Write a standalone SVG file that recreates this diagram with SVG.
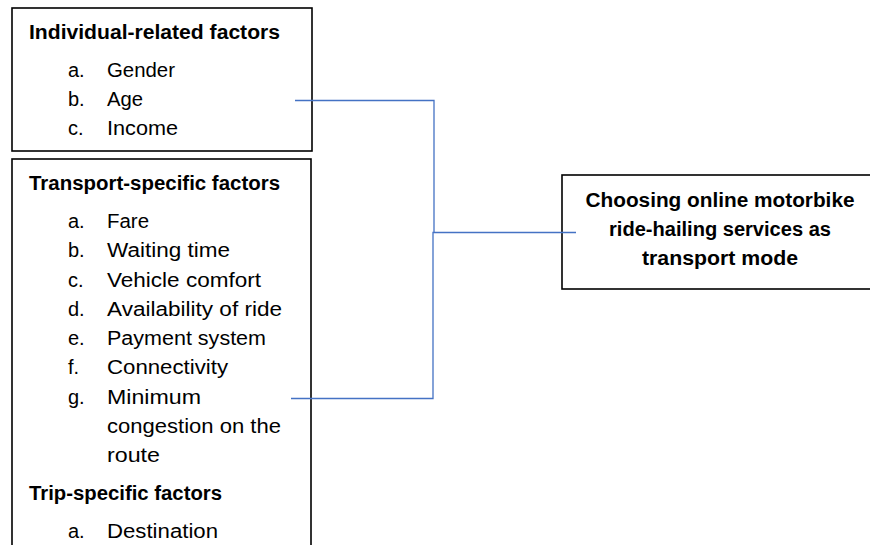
<svg xmlns="http://www.w3.org/2000/svg" width="870" height="545" viewBox="0 0 870 545">
<style>
.box{fill:#fff;stroke:#000;stroke-width:1.6}
.t{font-family:"Liberation Sans",Arial,sans-serif;font-size:20px;fill:#000}
.b{font-weight:bold}
.c{stroke:#4472C4;stroke-width:1.3;fill:none}
</style>
<rect width="870" height="545" fill="#fff"/>
<g id="individual">
<rect class="box" x="12" y="8" width="300" height="143"/>
<text class="t b" x="29" y="39" textLength="251" lengthAdjust="spacingAndGlyphs">Individual-related factors</text>
<text class="t" x="68" y="77">a.</text><text class="t" x="107" y="77" textLength="68" lengthAdjust="spacingAndGlyphs">Gender</text>
<text class="t" x="68" y="106">b.</text><text class="t" x="107" y="106" textLength="36" lengthAdjust="spacingAndGlyphs">Age</text>
<text class="t" x="68" y="135">c.</text><text class="t" x="107" y="135" textLength="71" lengthAdjust="spacingAndGlyphs">Income</text>
</g>
<g id="transport">
<rect class="box" x="12" y="159" width="299" height="400"/>
<text class="t b" x="29" y="190" textLength="251" lengthAdjust="spacingAndGlyphs">Transport-specific factors</text>
<text class="t" x="68" y="228">a.</text><text class="t" x="107" y="228" textLength="42" lengthAdjust="spacingAndGlyphs">Fare</text>
<text class="t" x="68" y="257">b.</text><text class="t" x="107" y="257" textLength="123" lengthAdjust="spacingAndGlyphs">Waiting time</text>
<text class="t" x="68" y="287">c.</text><text class="t" x="107" y="287" textLength="154" lengthAdjust="spacingAndGlyphs">Vehicle comfort</text>
<text class="t" x="68" y="316">d.</text><text class="t" x="107" y="316" textLength="175" lengthAdjust="spacingAndGlyphs">Availability of ride</text>
<text class="t" x="68" y="345">e.</text><text class="t" x="107" y="345" textLength="159" lengthAdjust="spacingAndGlyphs">Payment system</text>
<text class="t" x="68" y="374">f.</text><text class="t" x="107" y="374" textLength="121" lengthAdjust="spacingAndGlyphs">Connectivity</text>
<text class="t" x="68" y="404">g.</text><text class="t" x="107" y="404" textLength="94" lengthAdjust="spacingAndGlyphs">Minimum</text>
<text class="t" x="107" y="433" textLength="174" lengthAdjust="spacingAndGlyphs">congestion on the</text>
<text class="t" x="107" y="462" textLength="53" lengthAdjust="spacingAndGlyphs">route</text>
<text class="t b" x="29" y="500" textLength="193" lengthAdjust="spacingAndGlyphs">Trip-specific factors</text>
<text class="t" x="68" y="538">a.</text><text class="t" x="107" y="538" textLength="111" lengthAdjust="spacingAndGlyphs">Destination</text>
</g>
<g id="outcome">
<rect class="box" x="562" y="175" width="316" height="114"/>
<text class="t b" x="720" y="207" text-anchor="middle" textLength="269" lengthAdjust="spacingAndGlyphs">Choosing online motorbike</text>
<text class="t b" x="720" y="236" text-anchor="middle" textLength="222" lengthAdjust="spacingAndGlyphs">ride-hailing services as</text>
<text class="t b" x="720" y="265" text-anchor="middle" textLength="156" lengthAdjust="spacingAndGlyphs">transport mode</text>
</g>
<g id="connectors">
<polyline class="c" points="295,100.5 434,100.5 434,232.5"/>
<polyline class="c" points="291,398.5 433,398.5 433,232.5 576,232.5"/>
</g>
</svg>
